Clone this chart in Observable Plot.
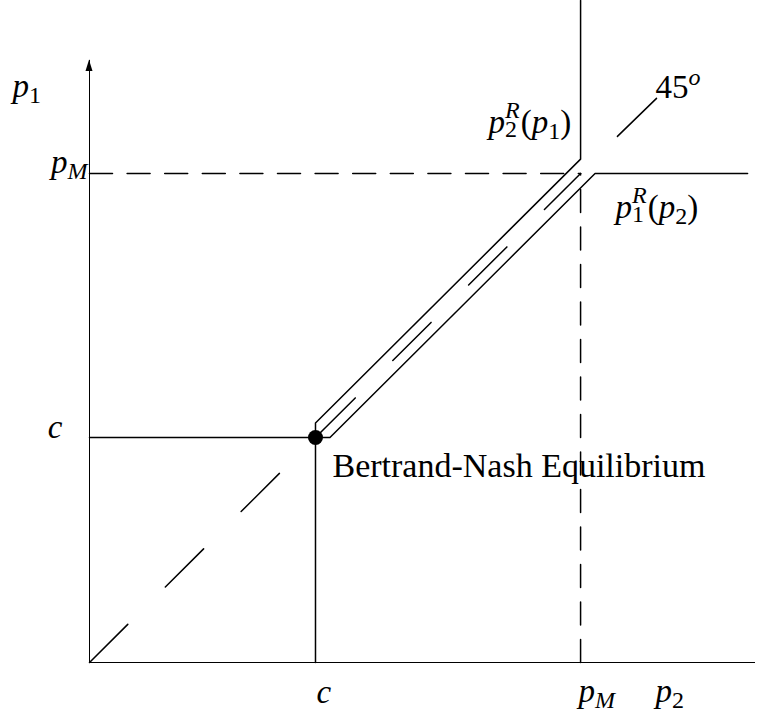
<!DOCTYPE html>
<html><head><meta charset="utf-8">
<script src="https://cdn.jsdelivr.net/npm/d3@7"></script>
<script src="https://cdn.jsdelivr.net/npm/@observablehq/plot@0.6"></script>
<style>html,body{margin:0;padding:0;background:#fff;overflow:hidden} svg{display:block}</style>
</head><body><div id="chart"></div>
<script>
// ---- values (in price units, c = 1) ----
const c = 1;
const pM = 2.173;
const eps = 0.064;
const p2Max = 2.947;
const p1Max = 2.942;
const p1AxisTop = 2.676;
const p1RespEnd = 2.912;

const p2Response = [{p2: c, p1: 0}, {p2: c, p1: c + eps}, {p2: pM, p1: pM + eps}, {p2: pM, p1: p1Max}];
const p1Response = [{p2: 0, p1: c}, {p2: c + eps, p1: c}, {p2: pM + eps, p1: pM}, {p2: p1RespEnd, p1: pM}];
const fortyFive = [{p2: 0, p1: 0}, {p2: pM, p1: pM}];
const monopolyP1 = [{p2: 0, p1: pM}, {p2: pM, p1: pM}];
const monopolyP2 = [{p2: pM, p1: 0}, {p2: pM, p1: pM}];
const angleMarker = [{p2: 2.336, p1: 2.338}, {p2: 2.509, p1: 2.507}];
const equilibrium = [{p2: c, p1: c}];
const arrowHead = [{p1: 2.627, half: 0.0155}, {p1: p1AxisTop, half: 0}];

const labelText = ["p_{1}", "p_{M}", "c", "c", "p_{M}", "p_{2}",
  "p_{2}^{R}(p_{1})", "p_{1}^{R}(p_{2})", "45^{o}", "Bertrand-Nash Equilibrium"];
const labelP2 = [0, 0, 0, c, pM, pM, pM, pM, 2.509, c];
const labelP1 = [p1AxisTop, pM, c, 0, 0, 0, pM, pM, 2.507, c];

// ---- layout (pixels) ----
const labelLayout = [
  {dx: -77, dy: 37, anchor: "start"},
  {dx: -2, dy: -1, anchor: "end"},
  {dx: -27, dy: 1, anchor: "end"},
  {dx: 1, dy: 40, anchor: "start"},
  {dx: -2, dy: 39, anchor: "start"},
  {dx: 75, dy: 39, anchor: "start"},
  {dx: -92, dy: -41, anchor: "start"},
  {dx: 35, dy: 44, anchor: "start"},
  {dx: -1, dy: 0, anchor: "start"},
  {dx: 17, dy: 40, anchor: "start", size: 34}
];

const labelMarks = labelText.map((t, i) => Plot.text([{t, p2: labelP2[i], p1: labelP1[i]}], {
  x: "p2", y: "p1", text: "t",
  dx: labelLayout[i].dx, dy: labelLayout[i].dy,
  textAnchor: labelLayout[i].anchor, lineAnchor: "bottom",
  fontSize: labelLayout[i].size || 33, fill: "black"
}));

const svg = Plot.plot({
  width: 758, height: 711,
  marginLeft: 89, marginRight: 3, marginTop: 0, marginBottom: 49,
  x: {domain: [0, p2Max], axis: null},
  y: {domain: [0, p1Max], axis: null},
  style: {fontFamily: "'Liberation Serif', serif", background: "white"},
  marks: [
    Plot.ruleY([0], {stroke: "black"}),
    Plot.ruleX([0], {y1: 0, y2: p1AxisTop, stroke: "black"}),
    Plot.areaX(arrowHead, {y: "p1", x1: d => -d.half, x2: d => d.half, fill: "black"}),
    Plot.line(fortyFive, {x: "p2", y: "p1", stroke: "black", strokeDasharray: "54,53"}),
    Plot.line(monopolyP1, {x: "p2", y: "p1", stroke: "black", strokeDasharray: "23,14.6"}),
    Plot.line(monopolyP2, {x: "p2", y: "p1", stroke: "black", strokeDasharray: "23,14.5"}),
    Plot.line(p2Response, {x: "p2", y: "p1", stroke: "black"}),
    Plot.line(p1Response, {x: "p2", y: "p1", stroke: "black"}),
    Plot.line(angleMarker, {x: "p2", y: "p1", stroke: "black"}),
    Plot.dot(equilibrium, {x: "p2", y: "p1", r: 7.5, fill: "black", stroke: null}),
    ...labelMarks
  ]
});
document.getElementById("chart").append(svg);

// ---- math typesetting of labels as real text (tspans) ----
const S = 24;
const isLetter = ch => /[A-Za-z]/.test(ch);
function typeset(el) {
  const s = el.textContent;
  if (!/[_^]/.test(s) && !(s.length === 1 && isLetter(s))) return;
  const toks = [];
  let i = 0;
  while (i < s.length) {
    const ch = s[i];
    if ((ch === "_" || ch === "^") && s[i + 1] === "{") {
      const j = s.indexOf("}", i);
      toks[toks.length - 1][ch === "_" ? "sub" : "sup"] = s.slice(i + 2, j);
      i = j + 1;
    } else { toks.push({base: ch}); i++; }
  }
  el.textContent = "";
  const sel = d3.select(el);
  let pDy = 0, pDx = 0;
  const fs = t => isLetter(t) ? "italic" : "normal";
  for (const t of toks) {
    const b = sel.append("tspan").text(t.base).attr("font-style", fs(t.base));
    if (pDy) b.attr("dy", pDy);
    if (pDx) b.attr("dx", pDx);
    pDy = 0; pDx = 0;
    if (t.sub && t.sup) {
      const up = sel.append("tspan").text(t.sup).attr("font-size", S).attr("font-style", fs(t.sup)).attr("dy", -15);
      const wUp = up.node().getComputedTextLength();
      const dn = sel.append("tspan").text(t.sub).attr("font-size", S).attr("font-style", fs(t.sub)).attr("dx", -wUp).attr("dy", 19);
      const wDn = dn.node().getComputedTextLength();
      pDy = -4; pDx = Math.max(0, wUp - wDn) + 1;
    } else if (t.sub) {
      sel.append("tspan").text(t.sub).attr("font-size", S).attr("font-style", fs(t.sub)).attr("dy", 6);
      pDy = -6;
    } else if (t.sup) {
      sel.append("tspan").text(t.sup).attr("font-size", S).attr("font-style", fs(t.sup)).attr("dy", -13);
      pDy = 13;
    }
  }
}
svg.querySelectorAll("text").forEach(typeset);
</script>
</body></html>
